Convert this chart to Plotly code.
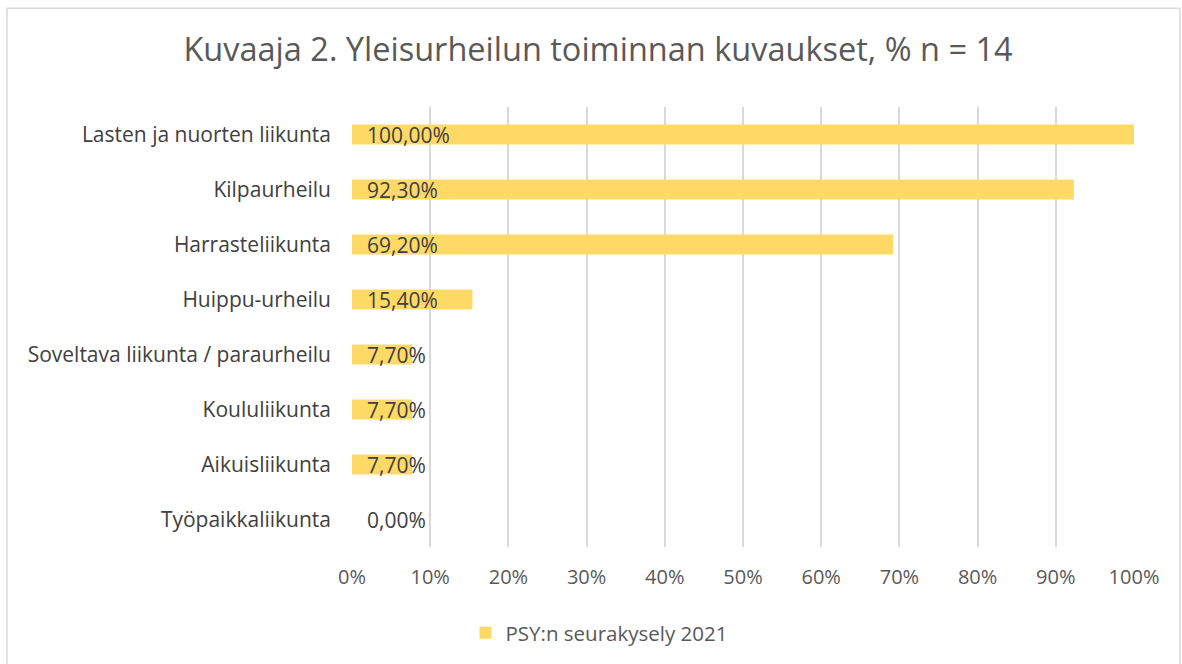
import plotly.graph_objects as go

categories = ["Lasten ja nuorten liikunta", "Kilpaurheilu", "Harrasteliikunta", "Huippu-urheilu",
              "Soveltava liikunta / paraurheilu", "Koululiikunta", "Aikuisliikunta", "Työpaikkaliikunta"]
values = [100.0, 92.3, 69.2, 15.4, 7.7, 7.7, 7.7, 0.0]
labels = ["100,00%", "92,30%", "69,20%", "15,40%", "7,70%", "7,70%", "7,70%", "0,00%"]
tick_vals = [0, 10, 20, 30, 40, 50, 60, 70, 80, 90, 100]
tick_text = ["0%", "10%", "20%", "30%", "40%", "50%", "60%", "70%", "80%", "90%", "100%"]
series_name = "PSY:n seurakysely 2021"
title = "Kuvaaja 2. Yleisurheilun toiminnan kuvaukset, % n = 14"

FONT = "Open Sans"
W, H = 1182, 664
L, R, T, B = 352, 1182 - 1134, 107, 664 - 548
pw, ph = W - L - R, H - T - B

fig = go.Figure()
fig.add_trace(go.Bar(
    x=values, y=categories, orientation="h", name=series_name,
    marker=dict(color="#FFD966", line=dict(width=0)), width=0.36,
))

annotations = []
for c, t in zip(categories, labels):
    annotations.append(dict(x=0, y=c, xref="x", yref="y", text=t, showarrow=False,
                            xanchor="left", xshift=13,
                            font=dict(family=FONT, size=21, color="#404040")))

def px_x(px):
    return (px - L) / pw

def px_y(py):
    return (H - B - py) / ph

fig.update_layout(
    width=W, height=H,
    margin=dict(l=L, r=R, t=T, b=B),
    paper_bgcolor="white", plot_bgcolor="white",
    title=dict(text=title, x=598 / W, xanchor="center", y=1 - 50 / H, yanchor="middle",
               font=dict(family=FONT, size=32.5, color="#595959")),
    xaxis=dict(range=[0, 100], tickvals=tick_vals, ticktext=tick_text,
               showgrid=True, gridcolor="#D9D9D9", gridwidth=1.5, zeroline=False,
               showline=False, ticks="", ticklabelstandoff=16,
               tickfont=dict(family=FONT, size=20, color="#595959"),
               fixedrange=True),
    yaxis=dict(autorange="reversed", showgrid=False, zeroline=False, showline=False, ticks="",
               ticklabelstandoff=20,
               tickfont=dict(family=FONT, size=21, color="#404040")),
    showlegend=True,
    legend=dict(orientation="h", x=px_x(599), xanchor="center", y=px_y(633), yanchor="middle",
                font=dict(family=FONT, size=20.5, color="#595959")),
    annotations=annotations,
    shapes=[dict(type="rect", xref="paper", yref="paper",
                 x0=px_x(7), x1=px_x(1180), y0=px_y(680), y1=px_y(8),
                 line=dict(color="#D9D9D9", width=1.5), fillcolor="rgba(0,0,0,0)", layer="below")],
)

fig.write_html("out.html", config={"displayModeBar": False},
               post_script="document.body.style.margin='0';document.body.style.overflow='hidden';")
